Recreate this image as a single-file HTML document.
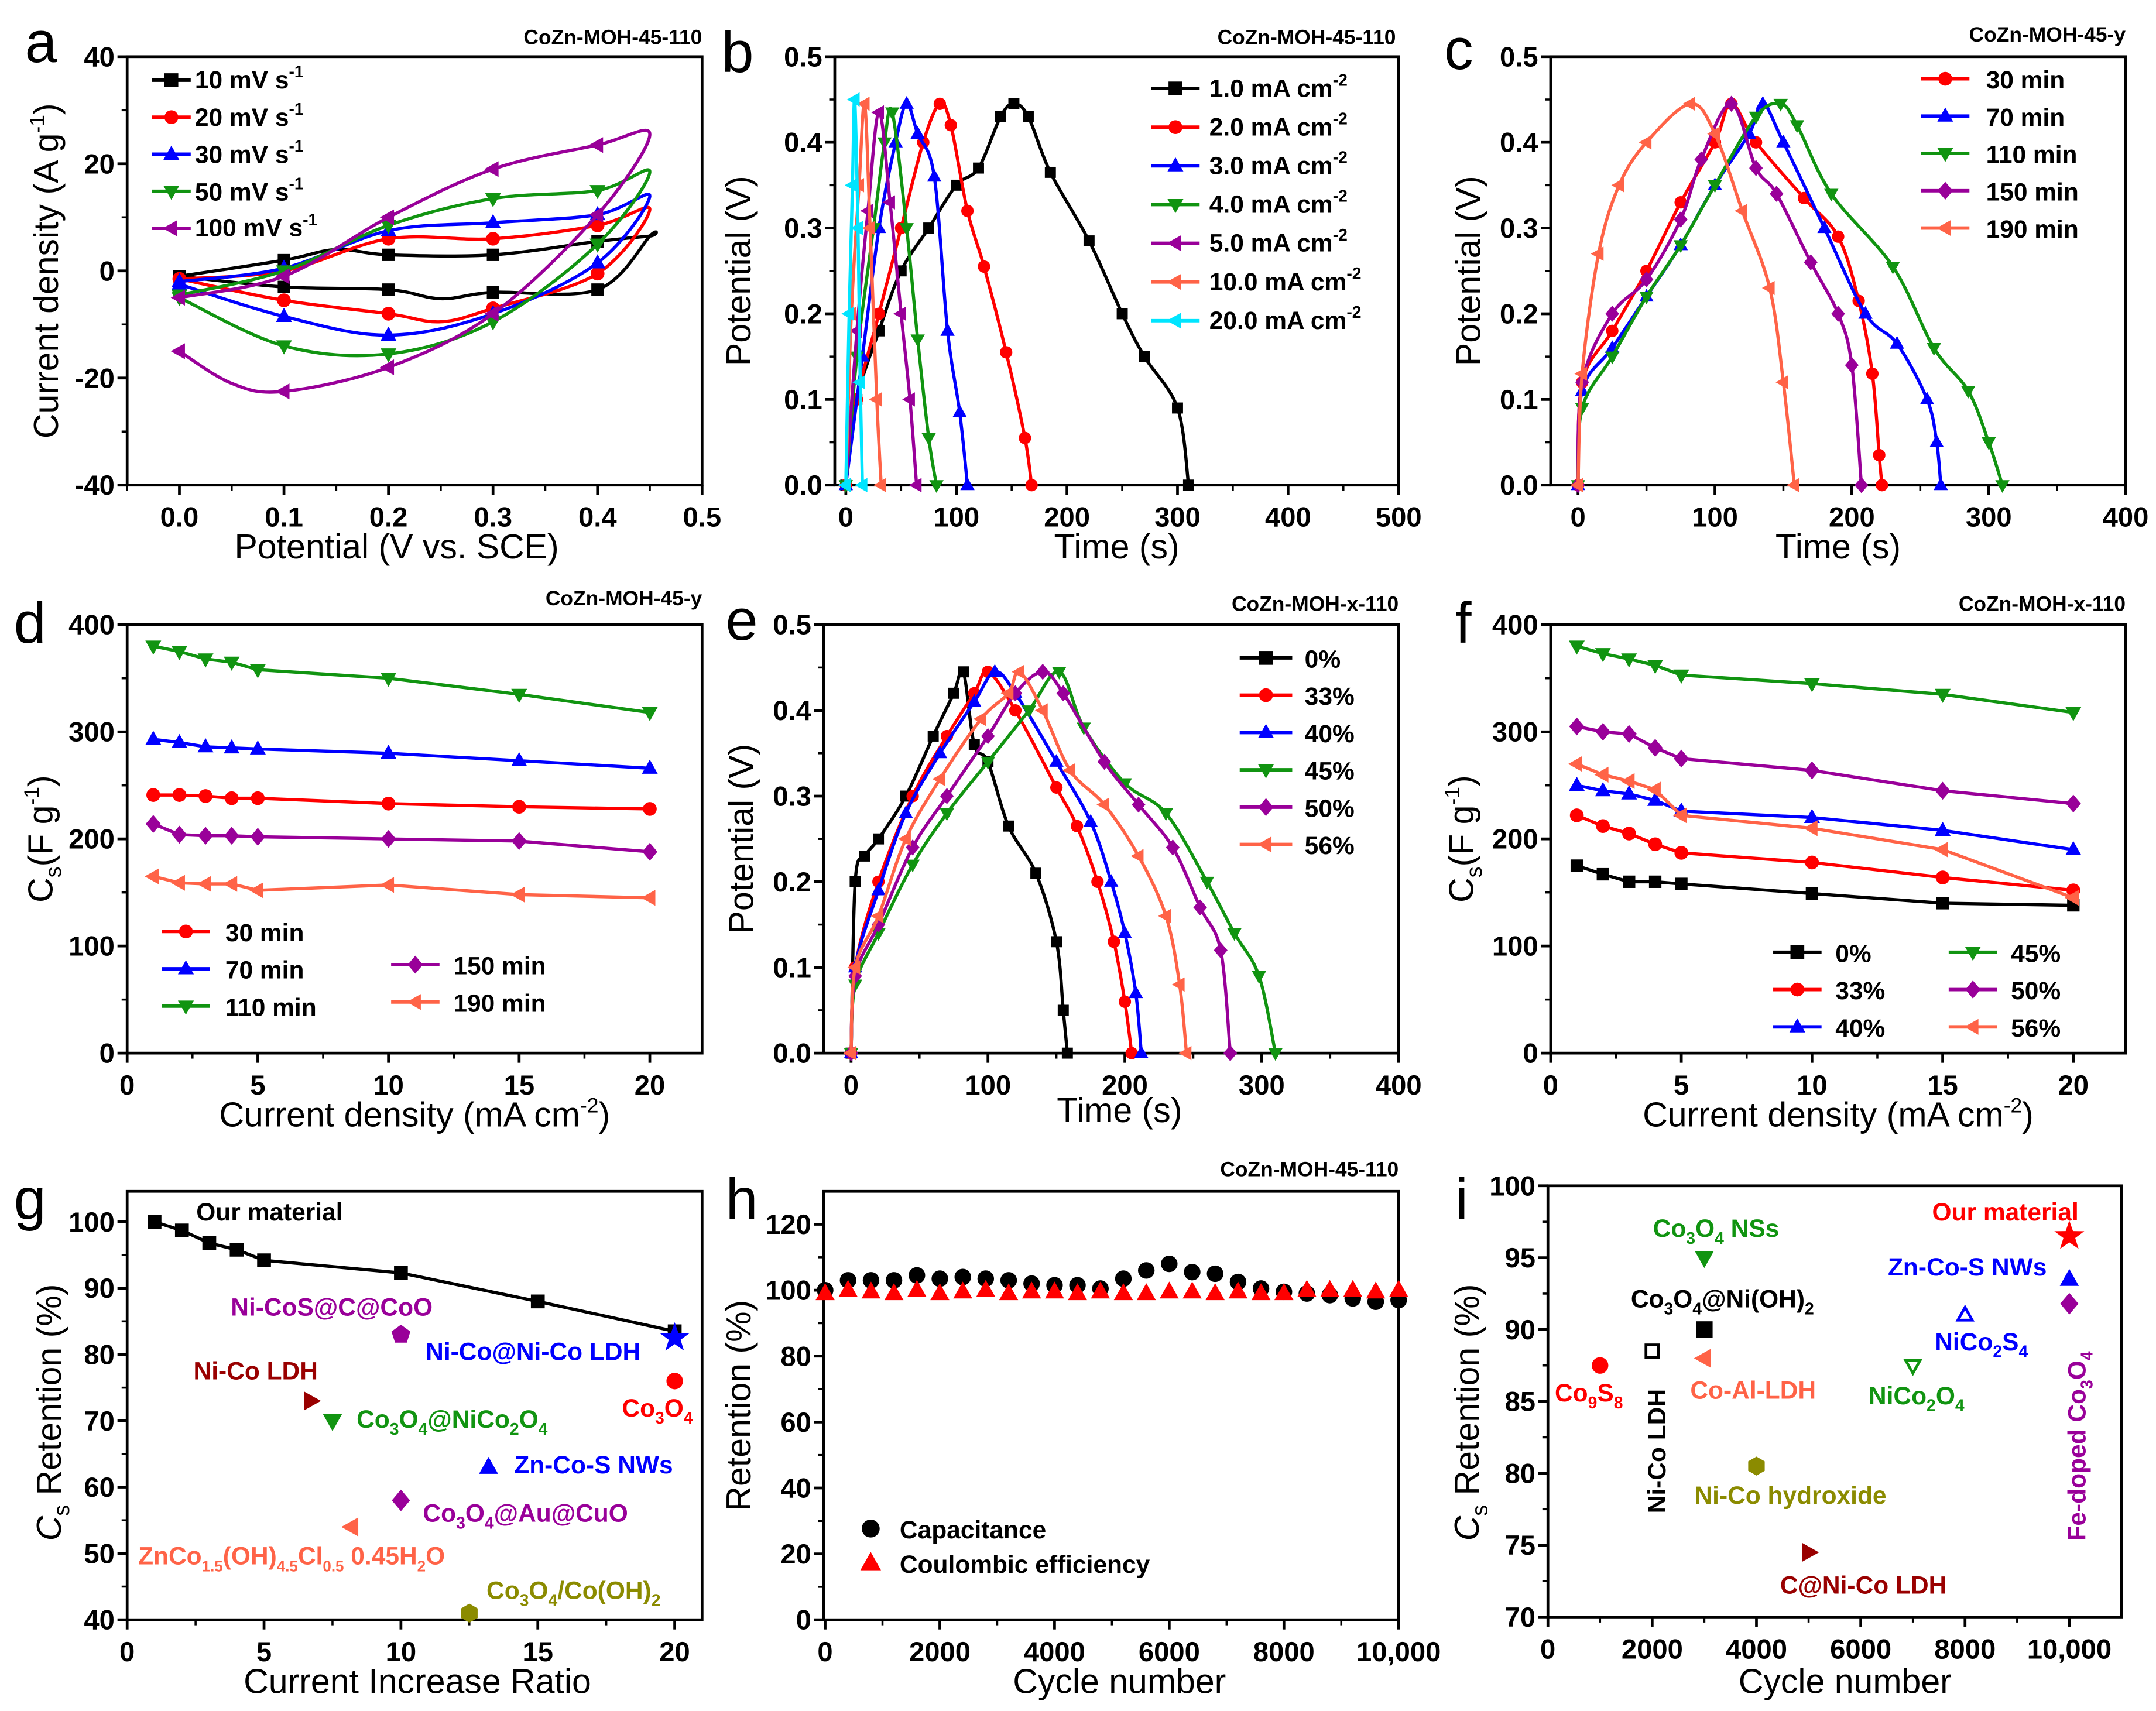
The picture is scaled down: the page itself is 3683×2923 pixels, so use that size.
<!DOCTYPE html>
<html><head><meta charset="utf-8"><title>CoZn-MOH electrochemical performance figure</title>
<style>
html,body{margin:0;padding:0;background:#fff;}
svg{display:block;font-family:"Liberation Sans",Arial,sans-serif;}
.tick{font-size:20px;font-weight:bold;fill:#000;}
.ax{font-size:25px;fill:#000;}
.lg{font-size:18px;font-weight:bold;}
.ttl{font-size:15px;font-weight:bold;}
.let{font-size:42px;fill:#000;}
.lab{font-size:18px;font-weight:bold;}
</style></head>
<body>
<svg id="fig" width="3683" height="2923" viewBox="0 0 1560 1238" preserveAspectRatio="none" xmlns="http://www.w3.org/2000/svg">
<rect width="1560" height="1238" fill="#fff"/>
<!-- panel letters -->
<text class="let" x="18" y="45">a</text>
<text class="let" x="522" y="52">b</text>
<text class="let" x="1045" y="50">c</text>
<text class="let" x="10" y="465">d</text>
<text class="let" x="525" y="463">e</text>
<text class="let" x="1053" y="465">f</text>
<text class="let" x="10" y="882">g</text>
<text class="let" x="525" y="882">h</text>
<text class="let" x="1053" y="882">i</text>
<!-- titles -->
<text class="ttl" x="508" y="32" text-anchor="end">CoZn-MOH-45-110</text>
<text class="ttl" x="1010" y="32" text-anchor="end">CoZn-MOH-45-110</text>
<text class="ttl" x="1538" y="30" text-anchor="end">CoZn-MOH-45-y</text>
<text class="ttl" x="508" y="438" text-anchor="end">CoZn-MOH-45-y</text>
<text class="ttl" x="1012" y="442" text-anchor="end">CoZn-MOH-x-110</text>
<text class="ttl" x="1538" y="442" text-anchor="end">CoZn-MOH-x-110</text>
<text class="ttl" x="1012" y="851" text-anchor="end">CoZn-MOH-45-110</text>
<!-- axis titles -->
<text class="ax" x="287" y="404" text-anchor="middle">Potential (V vs. SCE)</text>
<text class="ax" transform="translate(42,196) rotate(-90)" text-anchor="middle">Current density (A g<tspan font-size="15" dy="-10">-1</tspan><tspan dy="10">)</tspan></text>
<text class="ax" x="808" y="404" text-anchor="middle">Time (s)</text>
<text class="ax" transform="translate(543,196) rotate(-90)" text-anchor="middle">Potential (V)</text>
<text class="ax" x="1330" y="404" text-anchor="middle">Time (s)</text>
<text class="ax" transform="translate(1071,196) rotate(-90)" text-anchor="middle">Potential (V)</text>
<text class="ax" x="300" y="815" text-anchor="middle">Current density (mA cm<tspan font-size="15" dy="-10">-2</tspan><tspan dy="10">)</tspan></text>
<text class="ax" transform="translate(38,607) rotate(-90)" text-anchor="middle">C<tspan font-size="16" dy="6">s</tspan><tspan dy="-6">(F g</tspan><tspan font-size="15" dy="-10">-1</tspan><tspan dy="10">)</tspan></text>
<text class="ax" x="810" y="812" text-anchor="middle">Time (s)</text>
<text class="ax" transform="translate(545,607) rotate(-90)" text-anchor="middle">Potential (V)</text>
<text class="ax" x="1330" y="815" text-anchor="middle">Current density (mA cm<tspan font-size="15" dy="-10">-2</tspan><tspan dy="10">)</tspan></text>
<text class="ax" transform="translate(1066,607) rotate(-90)" text-anchor="middle">C<tspan font-size="16" dy="6">s</tspan><tspan dy="-6">(F g</tspan><tspan font-size="15" dy="-10">-1</tspan><tspan dy="10">)</tspan></text>
<text class="ax" x="302" y="1225" text-anchor="middle">Current Increase Ratio</text>
<text class="ax" transform="translate(44,1022) rotate(-90)" text-anchor="middle"><tspan font-style="italic">C</tspan><tspan font-size="16" dy="6">s</tspan><tspan dy="-6"> Retention (%)</tspan></text>
<text class="ax" x="810" y="1225" text-anchor="middle">Cycle number</text>
<text class="ax" transform="translate(543,1017) rotate(-90)" text-anchor="middle">Retention (%)</text>
<text class="ax" x="1335" y="1225" text-anchor="middle">Cycle number</text>
<text class="ax" transform="translate(1070,1022) rotate(-90)" text-anchor="middle"><tspan font-style="italic">C</tspan><tspan font-size="16" dy="6">s</tspan><tspan dy="-6"> Retention (%)</tspan></text>

<!-- legend texts -->
<g class="lg">
<text x="141" y="64">10 mV s<tspan font-size="12" dy="-8">-1</tspan></text>
<text x="141" y="91">20 mV s<tspan font-size="12" dy="-8">-1</tspan></text>
<text x="141" y="118">30 mV s<tspan font-size="12" dy="-8">-1</tspan></text>
<text x="141" y="145">50 mV s<tspan font-size="12" dy="-8">-1</tspan></text>
<text x="141" y="171">100 mV s<tspan font-size="12" dy="-8">-1</tspan></text>
</g>
<g class="lg">
<text x="875" y="70">1.0 mA cm<tspan font-size="12" dy="-8">-2</tspan></text>
<text x="875" y="98">2.0 mA cm<tspan font-size="12" dy="-8">-2</tspan></text>
<text x="875" y="126">3.0 mA cm<tspan font-size="12" dy="-8">-2</tspan></text>
<text x="875" y="154">4.0 mA cm<tspan font-size="12" dy="-8">-2</tspan></text>
<text x="875" y="182">5.0 mA cm<tspan font-size="12" dy="-8">-2</tspan></text>
<text x="875" y="210">10.0 mA cm<tspan font-size="12" dy="-8">-2</tspan></text>
<text x="875" y="238">20.0 mA cm<tspan font-size="12" dy="-8">-2</tspan></text>
</g>
<g class="lg">
<text x="1437" y="64">30 min</text>
<text x="1437" y="91">70 min</text>
<text x="1437" y="118">110 min</text>
<text x="1437" y="145">150 min</text>
<text x="1437" y="172">190 min</text>
</g>
<g class="lg">
<text x="163" y="681">30 min</text>
<text x="163" y="708">70 min</text>
<text x="163" y="735">110 min</text>
<text x="328" y="705">150 min</text>
<text x="328" y="732">190 min</text>
</g>
<g class="lg">
<text x="944" y="483">0%</text>
<text x="944" y="510">33%</text>
<text x="944" y="537">40%</text>
<text x="944" y="564">45%</text>
<text x="944" y="591">50%</text>
<text x="944" y="618">56%</text>
</g>
<g class="lg">
<text x="1328" y="696">0%</text>
<text x="1328" y="723">33%</text>
<text x="1328" y="750">40%</text>
<text x="1455" y="696">45%</text>
<text x="1455" y="723">50%</text>
<text x="1455" y="750">56%</text>
</g>
<g class="lg">
<text x="651" y="1113">Capacitance</text>
<text x="651" y="1138">Coulombic efficiency</text>
</g>
<!-- panel g labels -->
<g class="lab">
<text x="142" y="883" fill="#000">Our material</text>
<text x="167" y="952" fill="#990099">Ni-CoS@C@CoO</text>
<text x="308" y="984" fill="#0000ff">Ni-Co@Ni-Co LDH</text>
<text x="140" y="998" fill="#990000">Ni-Co LDH</text>
<text x="258" y="1033" fill="#119411">Co<tspan font-size="12" dy="5">3</tspan><tspan dy="-5">O</tspan><tspan font-size="12" dy="5">4</tspan><tspan dy="-5">@NiCo</tspan><tspan font-size="12" dy="5">2</tspan><tspan dy="-5">O</tspan><tspan font-size="12" dy="5">4</tspan></text>
<text x="450" y="1025" fill="#ff0000">Co<tspan font-size="12" dy="5">3</tspan><tspan dy="-5">O</tspan><tspan font-size="12" dy="5">4</tspan></text>
<text x="372" y="1066" fill="#0000ff">Zn-Co-S NWs</text>
<text x="306" y="1101" fill="#990099">Co<tspan font-size="12" dy="5">3</tspan><tspan dy="-5">O</tspan><tspan font-size="12" dy="5">4</tspan><tspan dy="-5">@Au@CuO</tspan></text>
<text x="100" y="1132" fill="#ff6347">ZnCo<tspan font-size="11" dy="5">1.5</tspan><tspan dy="-5">(OH)</tspan><tspan font-size="11" dy="5">4.5</tspan><tspan dy="-5">Cl</tspan><tspan font-size="11" dy="5">0.5</tspan><tspan dy="-5"> 0.45H</tspan><tspan font-size="11" dy="5">2</tspan><tspan dy="-5">O</tspan></text>
<text x="352" y="1157" fill="#8b8b00">Co<tspan font-size="12" dy="5">3</tspan><tspan dy="-5">O</tspan><tspan font-size="12" dy="5">4</tspan><tspan dy="-5">/Co(OH)</tspan><tspan font-size="12" dy="5">2</tspan></text>
</g>
<!-- panel i labels -->
<g class="lab">
<text x="1398" y="883" fill="#ff0000">Our material</text>
<text x="1196" y="895" fill="#119411">Co<tspan font-size="12" dy="5">3</tspan><tspan dy="-5">O</tspan><tspan font-size="12" dy="5">4</tspan><tspan dy="-5"> NSs</tspan></text>
<text x="1366" y="923" fill="#0000ff">Zn-Co-S NWs</text>
<text x="1180" y="946" fill="#000">Co<tspan font-size="12" dy="5">3</tspan><tspan dy="-5">O</tspan><tspan font-size="12" dy="5">4</tspan><tspan dy="-5">@Ni(OH)</tspan><tspan font-size="12" dy="5">2</tspan></text>
<text x="1400" y="977" fill="#0000ff">NiCo<tspan font-size="12" dy="5">2</tspan><tspan dy="-5">S</tspan><tspan font-size="12" dy="5">4</tspan></text>
<text x="1125" y="1014" fill="#ff0000">Co<tspan font-size="12" dy="5">9</tspan><tspan dy="-5">S</tspan><tspan font-size="12" dy="5">8</tspan></text>
<text x="1223" y="1012" fill="#ff6347">Co-Al-LDH</text>
<text x="1352" y="1016" fill="#119411">NiCo<tspan font-size="12" dy="5">2</tspan><tspan dy="-5">O</tspan><tspan font-size="12" dy="5">4</tspan></text>
<text x="1226" y="1088" fill="#8b8b00">Ni-Co hydroxide</text>
<text x="1288" y="1153" fill="#990000">C@Ni-Co LDH</text>
<text transform="translate(1205,1095) rotate(-90)" fill="#000">Ni-Co LDH</text>
<text transform="translate(1509,1115) rotate(-90)" fill="#990099">Fe-doped Co<tspan font-size="12" dy="5">3</tspan><tspan dy="-5">O</tspan><tspan font-size="12" dy="5">4</tspan></text>
</g>
<g id="plots"></g>
</svg>
<script>
// ===== data =====
// panel a: CV loops [V, I]
const cv10 = [[0,-1],[0.1,2],[0.15,4],[0.2,3],[0.3,3],[0.4,5.5],[0.45,6.5],[0.45,6.5],[0.4,-3.5],[0.3,-4],[0.25,-5.2],[0.2,-3.5],[0.1,-3],[0,-1]];
const cv20 = [[0,-1.5],[0.1,0],[0.2,6],[0.3,6],[0.4,8.5],[0.45,11.5],[0.4,-0.5],[0.3,-7],[0.25,-9.5],[0.2,-8],[0.1,-5.5],[0,-1.5]];
const cv30 = [[0,-2],[0.1,0.5],[0.2,7.5],[0.3,9],[0.4,10.5],[0.45,14],[0.4,1.5],[0.3,-8],[0.2,-12],[0.1,-8.5],[0,-2.5]];
const cv50 = [[0,-4.5],[0.1,0],[0.2,8.5],[0.3,13.5],[0.4,15],[0.45,18.5],[0.4,5],[0.3,-9.5],[0.2,-15.5],[0.1,-14],[0,-5]];
const cv100 = [[0,-5],[0.1,-1],[0.2,10],[0.3,19],[0.4,23.5],[0.45,25.5],[0.4,10.5],[0.3,-8],[0.2,-18],[0.1,-22.5],[0.05,-21],[0,-15]];
// panel b: GCD [t, V]
const gcd1 = [[0,0],[10,0.1],[30,0.18],[50,0.25],[75,0.3],[100,0.35],[120,0.37],[140,0.43],[152,0.445],[165,0.43],[185,0.365],[220,0.285],[250,0.2],[270,0.15],[300,0.09],[310,0]];
const gcd2 = [[0,0],[10,0.1],[30,0.2],[50,0.3],[70,0.4],[85,0.445],[95,0.42],[110,0.32],[125,0.255],[145,0.155],[162,0.055],[168,0]];
const gcd3 = [[0,0],[15,0.15],[30,0.3],[45,0.4],[55,0.445],[65,0.41],[80,0.36],[92,0.18],[103,0.085],[110,0]];
const gcd4 = [[0,0],[10,0.15],[25,0.3],[35,0.4],[42,0.435],[55,0.3],[65,0.17],[75,0.055],[82,0]];
const gcd5 = [[0,0],[10,0.18],[20,0.32],[30,0.435],[40,0.33],[50,0.2],[58,0.1],[64,0]];
const gcd10 = [[0,0],[5,0.2],[12,0.35],[17,0.445],[22,0.3],[28,0.1],[32,0]];
const gcd20 = [[0,0],[3,0.2],[6,0.35],[8,0.45],[11,0.3],[13,0.12],[15,0]];
// panel c
const gc30 = [[0,0],[3,0.12],[25,0.18],[50,0.25],[75,0.33],[100,0.4],[112,0.445],[130,0.4],[165,0.335],[190,0.29],[205,0.215],[215,0.13],[220,0.035],[222,0]];
const gc70 = [[0,0],[3,0.11],[25,0.16],[50,0.22],[75,0.28],[100,0.35],[125,0.41],[135,0.445],[150,0.4],[180,0.3],[210,0.2],[233,0.165],[255,0.1],[262,0.05],[265,0]];
const gc110 = [[0,0],[3,0.09],[25,0.15],[50,0.22],[75,0.28],[100,0.35],[130,0.43],[148,0.445],[160,0.42],[185,0.34],[230,0.255],[260,0.16],[285,0.11],[300,0.05],[310,0]];
const gc150 = [[0,0],[3,0.12],[25,0.2],[50,0.24],[75,0.31],[90,0.38],[112,0.445],[130,0.37],[145,0.34],[170,0.26],[190,0.2],[200,0.14],[207,0]];
const gc190 = [[0,0],[3,0.13],[15,0.27],[30,0.35],[50,0.4],[82,0.445],[100,0.41],[120,0.32],[140,0.23],[150,0.12],[158,0]];
// panel d
const curD = [1,2,3,4,5,10,15,20];
const d110 = [380,375,368,365,358,350,335,318];
const d70 = [293,290,286,285,284,280,273,266];
const d30 = [241,241,240,238,238,233,230,228];
const d150 = [214,204,203,203,202,200,198,188];
const d190 = [165,159,158,158,152,157,148,145];
// panel e
const ge0 = [[0,0],[3,0.2],[10,0.23],[20,0.25],[40,0.3],[60,0.37],[75,0.42],[82,0.445],[90,0.36],[100,0.34],[115,0.265],[135,0.21],[150,0.13],[155,0.05],[158,0]];
const ge33 = [[0,0],[3,0.1],[20,0.2],[45,0.3],[70,0.37],[90,0.42],[100,0.445],[120,0.4],[150,0.31],[165,0.265],[180,0.2],[192,0.13],[200,0.06],[205,0]];
const ge40 = [[0,0],[3,0.1],[20,0.19],[40,0.28],[65,0.35],[90,0.41],[105,0.445],[120,0.42],[150,0.34],[175,0.27],[190,0.2],[200,0.14],[208,0.07],[212,0]];
const ge45 = [[0,0],[3,0.08],[20,0.14],[45,0.22],[70,0.28],[100,0.34],[130,0.4],[152,0.445],[170,0.38],[200,0.315],[230,0.28],[260,0.2],[280,0.14],[298,0.09],[310,0]];
const ge50 = [[0,0],[3,0.09],[20,0.15],[45,0.24],[70,0.3],[100,0.37],[120,0.42],[140,0.445],[155,0.42],[185,0.34],[210,0.29],[235,0.24],[255,0.17],[270,0.12],[277,0]];
const ge56 = [[0,0],[3,0.1],[20,0.16],[40,0.25],[65,0.32],[95,0.39],[115,0.42],[123,0.445],[140,0.4],[160,0.33],[185,0.29],[210,0.23],[230,0.16],[240,0.08],[245,0]];
// panel f
const curF = [1,2,3,4,5,10,15,20];
const f0 = [175,167,160,160,158,149,140,138];
const f33 = [222,212,205,195,187,178,164,152];
const f40 = [250,245,242,236,226,220,208,190];
const f45 = [380,373,368,362,353,345,335,318];
const f50 = [305,300,298,285,275,264,245,233];
const f56 = [270,260,254,246,222,210,190,145];
// panel g
const ratioG = [1,2,3,4,5,10,15,20];
const retG = [100,98.7,96.8,95.8,94.2,92.3,88,83.5];
const refGx = [10,20,20,6.7,7.5,13.2,10,8.2,12.5];
const refGy = [83,82.5,76,73,70,63,58,54,41];
// panel h
const cycH = [0,400,800,1200,1600,2000,2400,2800,3200,3600,4000,4400,4800,5200,5600,6000,6400,6800,7200,7600,8000,8400,8800,9200,9600,10000];
const capH = [100,103,103,103,104.5,103.5,104,103.5,103,102,101.5,101.5,100.5,103.5,106,108,105.5,105,102.5,100.5,99.5,99,98.5,97.5,96.5,97];
const ceH = [99,100,99.5,99,100,99,99.5,100,99,99.5,99.5,99,99.5,99,99,99.5,99.5,99,99.5,99,99,100,100,100,99.5,100];
// panel i
const refIx = [10000,3000,10000,10000,8000,3000,2000,3000,7000,1000,4000,5000];
const refIy = [96.5,95,93.5,91.8,91,90,88.5,88,87.5,87.5,80.5,74.5];

// ===== drawing =====
const NS='http://www.w3.org/2000/svg';
const root=document.getElementById('plots');
function mk(tag,parent){const e=document.createElementNS(NS,tag);parent.appendChild(e);return e;}
function att(e,o){for(const k in o)e.setAttribute(k,o[k]);return e;}
const C={k:'#000',r:'#ff0000',b:'#0000ff',g:'#119411',p:'#990099',o:'#ff6347',c:'#00e5ff',dr:'#990000',ol:'#8b8b00'};

function panel(L,R,T,B,xmin,xmax,ymin,ymax){return {L,R,T,B,sx:v=>L+(v-xmin)/(xmax-xmin)*(R-L),sy:v=>B-(v-ymin)/(ymax-ymin)*(B-T)};}
function axes(p,name,xt,xl,xm,yt,yl,ym){
  const g=mk('g',root);
  
  
  const fr=att(mk('rect',g),{x:p.L,y:p.T,width:p.R-p.L,height:p.B-p.T,fill:'none',stroke:'#000','stroke-width':2});
  
  
  xt.forEach((v,i)=>{const x=p.sx(v);
    const t=att(mk('line',g),{x1:x,x2:x,y1:p.B,y2:p.B+7,stroke:'#000','stroke-width':2});
    
    
    const l=att(mk('text',g),{x:x,y:p.B+30,'text-anchor':'middle',class:'tick'});l.textContent=xl[i];
    
    });
  xm.forEach(v=>{const x=p.sx(v);const t=att(mk('line',g),{x1:x,x2:x,y1:p.B,y2:p.B+4,stroke:'#000','stroke-width':1.5});
    
    });
  yt.forEach((v,i)=>{const y=p.sy(v);
    const t=att(mk('line',g),{x1:p.L-7,x2:p.L,y1:y,y2:y,stroke:'#000','stroke-width':2});
    
    
    const l=att(mk('text',g),{x:p.L-9,y:y+7,'text-anchor':'end',class:'tick'});l.textContent=yl[i];
    
    });
  ym.forEach(v=>{const y=p.sy(v);const t=att(mk('line',g),{x1:p.L-4,x2:p.L,y1:y,y2:y,stroke:'#000','stroke-width':1.5});
    
    });
}
function marker(parent,type,x,y,color,s,open){
  let e;
  const pts=a=>a.map(q=>q.join(',')).join(' ');
  if(type==='sq'){e=att(mk('rect',parent),{x:x-s,y:y-s,width:2*s,height:2*s});}
  else if(type==='circ'){e=att(mk('circle',parent),{cx:x,cy:y,r:s});}
  else {let a;
    if(type==='up')a=[[x,y-s*1.25],[x+s*1.15,y+s*0.8],[x-s*1.15,y+s*0.8]];
    else if(type==='down')a=[[x,y+s*1.25],[x+s*1.15,y-s*0.8],[x-s*1.15,y-s*0.8]];
    else if(type==='left')a=[[x-s*1.25,y],[x+s*0.8,y-s*1.15],[x+s*0.8,y+s*1.15]];
    else if(type==='right')a=[[x+s*1.25,y],[x-s*0.8,y-s*1.15],[x-s*0.8,y+s*1.15]];
    else if(type==='dia')a=[[x,y-s*1.3],[x+s*1.1,y],[x,y+s*1.3],[x-s*1.1,y]];
    else if(type==='pent'){a=[];for(let i=0;i<5;i++){const an=-Math.PI/2+i*2*Math.PI/5;a.push([x+s*1.2*Math.cos(an),y+s*1.2*Math.sin(an)]);}}
    else if(type==='hex'){a=[];for(let i=0;i<6;i++){const an=-Math.PI/2+i*Math.PI/3;a.push([x+s*1.15*Math.cos(an),y+s*1.15*Math.sin(an)]);}}
    else if(type==='star'){a=[];for(let i=0;i<10;i++){const an=-Math.PI/2+i*Math.PI/5;const r=i%2?s*0.75:s*1.9;a.push([x+r*Math.cos(an),y+r*Math.sin(an)]);}}
    e=att(mk('polygon',parent),{points:pts(a)});}
  if(open)att(e,{fill:'#fff',stroke:color,'stroke-width':2});else att(e,{fill:color});
  return e;
}
function smooth(P){let d='M'+P[0][0]+','+P[0][1];
  for(let i=0;i<P.length-1;i++){const p0=P[i-1]||P[i],p1=P[i],p2=P[i+1],p3=P[i+2]||p2;
    const c1=[p1[0]+(p2[0]-p0[0])/6,p1[1]+(p2[1]-p0[1])/6],c2=[p2[0]-(p3[0]-p1[0])/6,p2[1]-(p3[1]-p1[1])/6];
    d+=' C'+c1.join(',')+' '+c2.join(',')+' '+p2.join(',');}
  return d;}
function series(p,name,data,color,type,size,smoothIt,markFilter){
  const g=mk('g',root);
  
  
  const P=data.map(q=>[p.sx(q[0]),p.sy(q[1])]);
  const path=att(mk('path',g),{d:smoothIt?smooth(P):'M'+P.map(q=>q.join(',')).join(' L'),fill:'none',stroke:color,'stroke-width':2.3,'stroke-linejoin':'round'});
  
  
  data.forEach((q,i)=>{ if(markFilter && !markFilter(q,i))return;
    const m=marker(g,type,P[i][0],P[i][1],color,size,false);
    
    });
}
function legendSwatch(name,x1,x2,y,color,type,size){
  const g=mk('g',root);
  
  
  const l=att(mk('line',g),{x1:x1,x2:x2,y1:y,y2:y,stroke:color,'stroke-width':2.5});
  
  
  if(type){const m=marker(g,type,(x1+x2)/2,y,color,size,false);
  
  }
}
const zip=(xs,ys)=>xs.map((x,i)=>[x,ys[i]]);

// ---- panel a
const pa=panel(92,508,41,351,-0.05,0.5,-40,40);
axes(pa,'panel-a',[0,0.1,0.2,0.3,0.4,0.5],['0.0','0.1','0.2','0.3','0.4','0.5'],[-0.05,0.05,0.15,0.25,0.35,0.45],[-40,-20,0,20,40],['-40','-20','0','20','40'],[-30,-10,10,30]);
const cvMark=q=>[0,0.1,0.2,0.3,0.4].some(v=>Math.abs(v-q[0])<1e-6);
series(pa,'cv-10',cv10,C.k,'sq',4.5,true,cvMark);
series(pa,'cv-20',cv20,C.r,'circ',5,true,cvMark);
series(pa,'cv-30',cv30,C.b,'up',5,true,cvMark);
series(pa,'cv-50',cv50,C.g,'down',5,true,cvMark);
series(pa,'cv-100',cv100,C.p,'left',5,true,cvMark);
[[C.k,'sq'],[C.r,'circ'],[C.b,'up'],[C.g,'down'],[C.p,'left']].forEach((s,i)=>legendSwatch('legend-swatch-a',110,138,58+i*26.8,s[0],s[1],5));

// ---- panel b
const pb=panel(604,1012,41,351,-10,500,0,0.5);
const v5=['0.0','0.1','0.2','0.3','0.4','0.5'];
axes(pb,'panel-b',[0,100,200,300,400,500],['0','100','200','300','400','500'],[50,150,250,350,450],[0,0.1,0.2,0.3,0.4,0.5],v5,[0.05,0.15,0.25,0.35,0.45]);
series(pb,'gcd-1',gcd1,C.k,'sq',4,true);
series(pb,'gcd-2',gcd2,C.r,'circ',4.5,true);
series(pb,'gcd-3',gcd3,C.b,'up',4.5,true);
series(pb,'gcd-4',gcd4,C.g,'down',4.5,true);
series(pb,'gcd-5',gcd5,C.p,'left',4.5,true);
series(pb,'gcd-10',gcd10,C.o,'left',4.5,true);
series(pb,'gcd-20',gcd20,C.c,'left',4.5,true);
[[C.k,'sq'],[C.r,'circ'],[C.b,'up'],[C.g,'down'],[C.p,'left'],[C.o,'left'],[C.c,'left']].forEach((s,i)=>legendSwatch('legend-swatch-b',833,868,64+i*28,s[0],s[1],5));

// ---- panel c
const pc=panel(1122,1538,41,351,-20,400,0,0.5);
axes(pc,'panel-c',[0,100,200,300,400],['0','100','200','300','400'],[50,150,250,350],[0,0.1,0.2,0.3,0.4,0.5],v5,[0.05,0.15,0.25,0.35,0.45]);
series(pc,'gcd-30min',gc30,C.r,'circ',4.5,true);
series(pc,'gcd-70min',gc70,C.b,'up',4.5,true);
series(pc,'gcd-110min',gc110,C.g,'down',4.5,true);
series(pc,'gcd-150min',gc150,C.p,'dia',4.5,true);
series(pc,'gcd-190min',gc190,C.o,'left',4.5,true);
[[C.r,'circ'],[C.b,'up'],[C.g,'down'],[C.p,'dia'],[C.o,'left']].forEach((s,i)=>legendSwatch('legend-swatch-c',1390,1425,57+i*27,s[0],s[1],5));

// ---- panel d
const pd=panel(92,508,452,762,0,22,0,400);
axes(pd,'panel-d',[0,5,10,15,20],['0','5','10','15','20'],[2.5,7.5,12.5,17.5],[0,100,200,300,400],['0','100','200','300','400'],[50,150,250,350]);
series(pd,'cs-110min',zip(curD,d110),C.g,'down',5,false);
series(pd,'cs-70min',zip(curD,d70),C.b,'up',5,false);
series(pd,'cs-30min',zip(curD,d30),C.r,'circ',5,false);
series(pd,'cs-150min',zip(curD,d150),C.p,'dia',5,false);
series(pd,'cs-190min',zip(curD,d190),C.o,'left',5,false);
legendSwatch('legend-swatch-d',117,152,674,C.r,'circ',5);
legendSwatch('legend-swatch-d',117,152,701,C.b,'up',5);
legendSwatch('legend-swatch-d',117,152,728,C.g,'down',5);
legendSwatch('legend-swatch-d',283,318,698,C.p,'dia',5);
legendSwatch('legend-swatch-d',283,318,725,C.o,'left',5);

// ---- panel e
const pe=panel(596,1012,452,762,-20,400,0,0.5);
axes(pe,'panel-e',[0,100,200,300,400],['0','100','200','300','400'],[50,150,250,350],[0,0.1,0.2,0.3,0.4,0.5],v5,[0.05,0.15,0.25,0.35,0.45]);
series(pe,'gcd-0pct',ge0,C.k,'sq',4,true);
series(pe,'gcd-33pct',ge33,C.r,'circ',4.5,true);
series(pe,'gcd-40pct',ge40,C.b,'up',4.5,true);
series(pe,'gcd-45pct',ge45,C.g,'down',4.5,true);
series(pe,'gcd-50pct',ge50,C.p,'dia',4.5,true);
series(pe,'gcd-56pct',ge56,C.o,'left',4.5,true);
[[C.k,'sq'],[C.r,'circ'],[C.b,'up'],[C.g,'down'],[C.p,'dia'],[C.o,'left']].forEach((s,i)=>legendSwatch('legend-swatch-e',897,935,476+i*27,s[0],s[1],5));

// ---- panel f
const pf=panel(1122,1538,452,762,0,22,0,400);
axes(pf,'panel-f',[0,5,10,15,20],['0','5','10','15','20'],[2.5,7.5,12.5,17.5],[0,100,200,300,400],['0','100','200','300','400'],[50,150,250,350]);
series(pf,'cs-0pct',zip(curF,f0),C.k,'sq',4.5,false);
series(pf,'cs-33pct',zip(curF,f33),C.r,'circ',5,false);
series(pf,'cs-40pct',zip(curF,f40),C.b,'up',5,false);
series(pf,'cs-45pct',zip(curF,f45),C.g,'down',5,false);
series(pf,'cs-50pct',zip(curF,f50),C.p,'dia',5,false);
series(pf,'cs-56pct',zip(curF,f56),C.o,'left',5,false);
legendSwatch('legend-swatch-f',1283,1318,689,C.k,'sq',5);
legendSwatch('legend-swatch-f',1283,1318,716,C.r,'circ',5);
legendSwatch('legend-swatch-f',1283,1318,743,C.b,'up',5);
legendSwatch('legend-swatch-f',1410,1445,689,C.g,'down',5);
legendSwatch('legend-swatch-f',1410,1445,716,C.p,'dia',5);
legendSwatch('legend-swatch-f',1410,1445,743,C.o,'left',5);

// ---- panel g
const pg=panel(92,508,862,1172,0,21,40,104.6);
axes(pg,'panel-g',[0,5,10,15,20],['0','5','10','15','20'],[2.5,7.5,12.5,17.5],[40,50,60,70,80,90,100],['40','50','60','70','80','90','100'],[45,55,65,75,85,95]);
series(pg,'our-material-retention',zip(ratioG,retG),C.k,'sq',5,false);
const refGstyle=[['pent',C.p],['star',C.b],['circ',C.r],['right',C.dr],['down',C.g],['up',C.b],['dia',C.p],['left',C.o],['hex',C.ol]];
refGx.forEach((x,i)=>{const m=marker(root,refGstyle[i][0],pg.sx(x),pg.sy(refGy[i]),refGstyle[i][1],6,false);
  
  });

// ---- panel h
const ph=panel(596,1012,862,1172,-25,10000,0,130);
axes(ph,'panel-h',[0,2000,4000,6000,8000,10000],['0','2000','4000','6000','8000','10,000'],[1000,3000,5000,7000,9000],[0,20,40,60,80,100,120],['0','20','40','60','80','100','120'],[10,30,50,70,90,110]);
cycH.forEach((x,i)=>{const m=marker(root,'circ',ph.sx(x),ph.sy(capH[i]),C.k,6,false);
  
  });
cycH.forEach((x,i)=>{const m=marker(root,'up',ph.sx(x),ph.sy(ceH[i]),C.r,6,false);
  
  });
{const m1=marker(root,'circ',630,1106,C.k,6.5,false);


const m2=marker(root,'up',630,1131,C.r,6.5,false);

}

// ---- panel i
const pi=panel(1120,1535,858,1170,0,11000,70,100);
axes(pi,'panel-i',[0,2000,4000,6000,8000,10000],['0','2000','4000','6000','8000','10,000'],[1000,3000,5000,7000,9000],[70,75,80,85,90,95,100],['70','75','80','85','90','95','100'],[72.5,77.5,82.5,87.5,92.5,97.5]);
const refIstyle=[['star',C.r,0],['down',C.g,0],['up',C.b,0],['dia',C.p,0],['up',C.b,1],['sq',C.k,0],['sq',C.k,1],['left',C.o,0],['down',C.g,1],['circ',C.r,0],['hex',C.ol,0],['right',C.dr,0]];
refIx.forEach((x,i)=>{const st=refIstyle[i];const m=marker(root,st[0],pi.sx(x),pi.sy(refIy[i]),st[1],st[2]?4.5:6,!!st[2]);
  
  });
</script>
</body></html>
